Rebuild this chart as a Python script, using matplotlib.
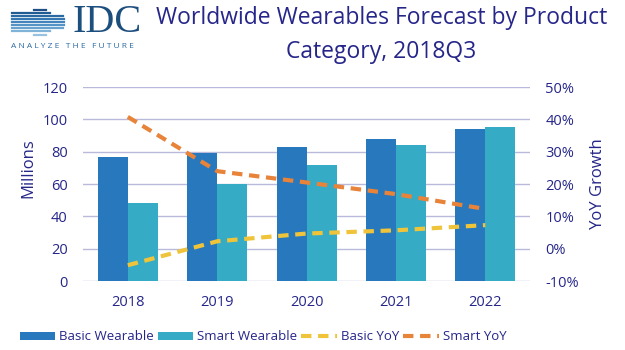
import numpy as np
import matplotlib.pyplot as plt
from matplotlib.lines import Line2D

years = ['2018', '2019', '2020', '2021', '2022']
basic_wearable = [77, 79, 83, 88, 94]
smart_wearable = [48, 60, 72, 84, 95.5]
basic_yoy = [-5.1, 2.3, 4.7, 5.7, 7.3]
smart_yoy = [40.8, 24.0, 20.5, 16.9, 12.3]

TEXT = '#26268a'
GRID = '#b9b9dc'
C_BASIC = '#2878bd'
C_SMART = '#35abc6'
C_BYOY = '#f0c43a'
C_SYOY = '#e8833a'

plt.rcParams['font.family'] = ['Open Sans', 'DejaVu Sans']


def draw_logo(fig):
    """Rough IDC logo: striped globe, wordmark and tagline"""
    W, H = 625, 350
    cx, cy, r = 40, 22, 14
    ys = np.linspace(cy - r + 1.5, cy + r - 1.5, 9)
    shades = ['#1d4f86', '#215b94', '#2a6aa3', '#3577b0', '#4284bb',
              '#5393c6', '#68a3cf', '#7fb3d8', '#97c3e1']
    for y, c in zip(ys, shades):
        half = np.sqrt(max(r ** 2 - (y - cy) ** 2, 0))
        x0 = 12 if abs(y - cy) < 10 else cx - half
        x1 = cx + half + 10 if abs(y - cy) < 9 else cx + half
        fig.add_artist(Line2D([x0 / W, x1 / W], [1 - y / H, 1 - y / H],
                              color=c, lw=1.6, transform=fig.transFigure))
    fig.text(73 / W, 1 - 22 / H, 'IDC', family='Liberation Serif', fontsize=29,
             color='#1d4f7e', va='center', ha='left')
    fig.text(11 / W, 1 - 46 / H, 'A N A L Y Z E   T H E   F U T U R E',
             fontsize=6, color='#2a6aa3', va='center', ha='left')


def plot():
    fig = plt.figure(figsize=(6.25, 3.5), dpi=100)
    ax = fig.add_axes([0.133, 0.197, 0.715, 0.554])
    ax2 = ax.twinx()

    x = np.arange(len(years))
    w = 0.335
    b1 = ax.bar(x - w / 2, basic_wearable, w, color=C_BASIC, label='Basic Wearable', zorder=2)
    b2 = ax.bar(x + w / 2, smart_wearable, w, color=C_SMART, label='Smart Wearable', zorder=2)
    l1, = ax2.plot(x, basic_yoy, color=C_BYOY, lw=3, dashes=(2.5, 1.6), label='Basic YoY')
    l2, = ax2.plot(x, smart_yoy, color=C_SYOY, lw=3, dashes=(2.5, 1.6), label='Smart YoY')

    ax.set_xlim(-0.5, 4.5)
    ax.set_ylim(0, 120)
    ax.set_yticks(range(0, 121, 20))
    ax2.set_ylim(-10, 50)
    ax2.set_yticks(range(-10, 51, 10))
    ax2.set_yticklabels([f'{v}%' for v in range(-10, 51, 10)])
    ax.set_xticks(x)
    ax.set_xticklabels(years)

    ax.grid(axis='y', color=GRID, lw=1, zorder=0)
    ax.set_axisbelow(True)
    for a in (ax, ax2):
        for s in a.spines.values():
            s.set_visible(False)
        a.tick_params(length=0, labelsize=10.5, colors=TEXT)
    ax.tick_params(axis='x', pad=10)
    ax.tick_params(axis='y', pad=11)
    ax2.tick_params(axis='y', pad=11)

    ax.set_ylabel('Millions', color=TEXT, fontsize=12)
    ax.yaxis.set_label_coords(-0.105, 0.58)
    ax2.set_ylabel('YoY Growth', color=TEXT, fontsize=12, labelpad=8)

    fig.text(0.61, 1 - 18 / 350, 'Worldwide Wearables Forecast by Product',
             ha='center', va='center', fontsize=16.5, color=TEXT)
    fig.text(0.61, 1 - 52 / 350, 'Category, 2018Q3',
             ha='center', va='center', fontsize=16.5, color=TEXT)

    fig.legend([b1, b2, l1, l2], ['Basic Wearable', 'Smart Wearable', 'Basic YoY', 'Smart YoY'],
               loc='center', bbox_to_anchor=(263 / 625, 1 - 337 / 350), ncol=4,
               frameon=False, fontsize=9.5, labelcolor=TEXT, handlelength=2.7,
               handletextpad=0.3, columnspacing=0.3, handleheight=0.5)

    draw_logo(fig)
    fig.savefig('out.png', dpi=100)


if __name__ == '__main__':
    plot()
